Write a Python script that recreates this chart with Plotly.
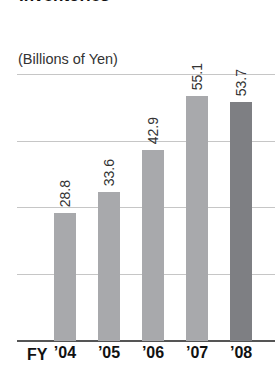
import plotly.graph_objects as go

years = ["’04", "’05", "’06", "’07", "’08"]
values = [28.8, 33.6, 42.9, 55.1, 53.7]
labels = ["28.8", "33.6", "42.9", "55.1", "53.7"]
colors = ["#a8a9ac", "#a8a9ac", "#a8a9ac", "#a8a9ac", "#7e7f83"]
yticks = [0, 15, 30, 45, 60]

FONT = "Liberation Sans, Arial, sans-serif"

fig = go.Figure(go.Bar(
    x=list(range(len(years))), y=values, width=0.5,
    marker=dict(color=colors, line=dict(width=0)),
    text=["\u2009" + t for t in labels], textposition="outside", textangle=-90,
    constraintext="none",
    textfont=dict(family=FONT, size=14, color="#333333"),
    cliponaxis=False,
))

fig.update_layout(
    width=275, height=365,
    margin=dict(l=17, r=0, t=70, b=24),
    paper_bgcolor="white", plot_bgcolor="white",
    showlegend=False,
    bargap=0,
    xaxis=dict(range=[-1.09, 4.77], tickvals=list(range(len(years))), ticktext=years,
               showgrid=False, zeroline=False, showline=False, ticks="",
               automargin=False,
               tickfont=dict(family=FONT, size=16, color="#111111", weight="bold")),
    yaxis=dict(range=[0, 61], tickvals=yticks, showticklabels=False,
               showgrid=True, gridcolor="#c6c6c6", gridwidth=1,
               zeroline=True, zerolinecolor="#555555", zerolinewidth=2,
               showline=False),
    annotations=[
        dict(text="<b>Inventories</b>", xref="paper", yref="paper", x=0, y=1.2325,
             xanchor="left", yanchor="bottom", showarrow=False,
             font=dict(family=FONT, size=17, color="#111111")),
        dict(text="(Billions of Yen)", xref="paper", yref="paper", x=-0.005, y=1.04,
             xanchor="left", yanchor="middle", showarrow=False,
             font=dict(family=FONT, size=14.5, color="#333333")),
        dict(text="<b>FY</b>", xref="x", yref="paper", x=-0.33, y=-0.05,
             xanchor="right", yanchor="middle", showarrow=False,
             font=dict(family=FONT, size=16, color="#111111")),
    ],
)

fig.write_html("out.html", config={"displayModeBar": False},
               post_script="document.body.style.margin='0';document.body.style.padding='0';document.body.style.overflow='hidden';")
